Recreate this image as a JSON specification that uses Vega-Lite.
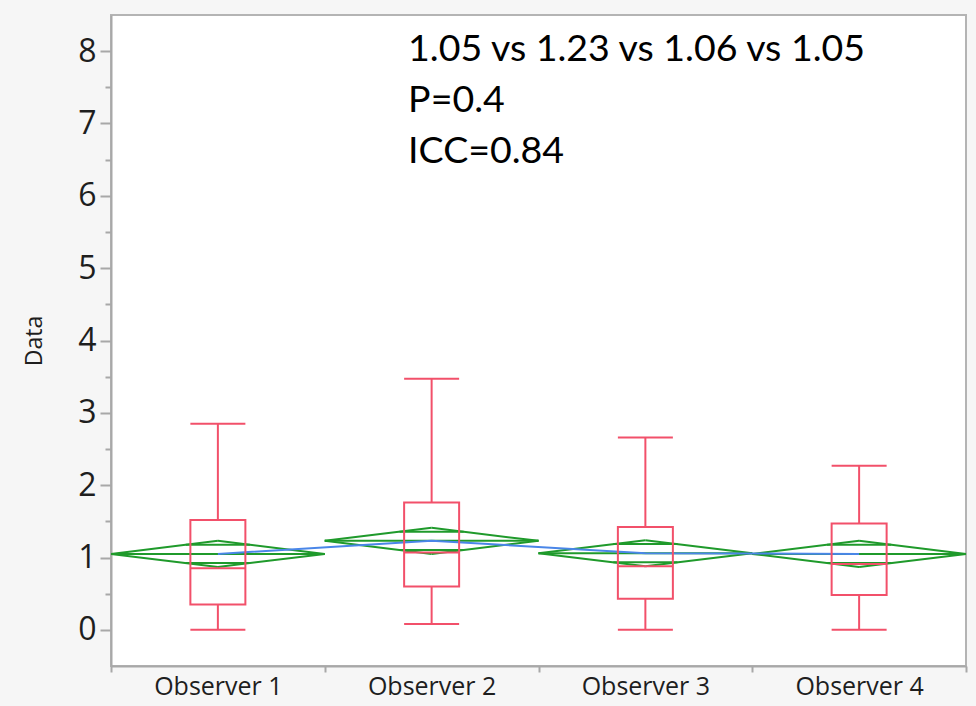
{
  "$schema": "https://vega.github.io/schema/vega-lite/v6.json",
  "width": 855,
  "height": 651,
  "autosize": "none",
  "padding": {"left": 111, "top": 15, "right": 10, "bottom": 40},
  "background": "#f6f6f6",
  "config": {
    "view": {"fill": "white", "stroke": "#b4b4b4", "strokeWidth": 2},
    "axis": {"grid": false, "domainColor": "#a8a8a8", "domainWidth": 2, "tickColor": "#a8a8a8", "tickWidth": 2, "labelColor": "#1e1e1e", "labelFont": "Open Sans", "titleFont": "Open Sans", "titleColor": "#1e1e1e", "titleFontWeight": "normal"},
    "axisY": {"titleFontSize": 23, "titlePadding": 31, "labelFontSize": 32, "labelPadding": 4}
  },
  "datasets": {
    "stats": [
      {"obs": "Observer 1", "min": 0, "q1": 0.35, "median": 0.85, "q3": 1.52, "max": 2.85, "mean": 1.05, "lo": 0.87, "hi": 1.23, "olo": 0.923, "ohi": 1.177},
      {"obs": "Observer 2", "min": 0.08, "q1": 0.6, "median": 1.07, "q3": 1.76, "max": 3.47, "mean": 1.23, "lo": 1.05, "hi": 1.41, "olo": 1.103, "ohi": 1.357},
      {"obs": "Observer 3", "min": 0, "q1": 0.43, "median": 0.88, "q3": 1.42, "max": 2.66, "mean": 1.06, "lo": 0.88, "hi": 1.24, "olo": 0.933, "ohi": 1.187},
      {"obs": "Observer 4", "min": 0, "q1": 0.48, "median": 0.91, "q3": 1.47, "max": 2.27, "mean": 1.05, "lo": 0.87, "hi": 1.23, "olo": 0.923, "ohi": 1.177}
    ]
  },
  "data": {"name": "stats"},
  "encoding": {
    "x": {"field": "obs", "type": "nominal", "bandPosition": 0,
      "scale": {"paddingInner": 0, "paddingOuter": 0},
      "axis": {"title": null, "tickBand": "extent", "labelAngle": 0, "labelFontSize": 25, "tickSize": 6, "labelPadding": 2}}
  },
  "layer": [
    {"mark": {"type": "rule", "color": "#1f9a2b", "strokeWidth": 2},
     "encoding": {
       "x2": {"field": "obs", "bandPosition": 0.5},
       "y": {"field": "mean", "type": "quantitative", "title": "Data",
         "scale": {"domain": [-0.5, 8.5], "nice": false, "zero": false},
         "axis": {"title": "Data",
           "values": [0, 0.5, 1, 1.5, 2, 2.5, 3, 3.5, 4, 4.5, 5, 5.5, 6, 6.5, 7, 7.5, 8],
           "labelExpr": "datum.value % 1 === 0 ? format(datum.value, 'd') : ''",
           "tickSize": {"condition": {"test": "datum.value % 1 === 0", "value": 11}, "value": 6}}},
       "y2": {"field": "hi"}}},
    {"mark": {"type": "rule", "color": "#1f9a2b", "strokeWidth": 2},
     "encoding": {"x2": {"field": "obs", "bandPosition": 0.5}, "y": {"field": "mean", "type": "quantitative", "title": "Data"}, "y2": {"field": "lo"}}},
    {"mark": {"type": "rule", "color": "#1f9a2b", "strokeWidth": 2},
     "encoding": {"x": {"field": "obs", "type": "nominal", "bandPosition": 0.5}, "x2": {"field": "obs", "bandPosition": 1}, "y": {"field": "hi", "type": "quantitative", "title": "Data"}, "y2": {"field": "mean"}}},
    {"mark": {"type": "rule", "color": "#1f9a2b", "strokeWidth": 2},
     "encoding": {"x": {"field": "obs", "type": "nominal", "bandPosition": 0.5}, "x2": {"field": "obs", "bandPosition": 1}, "y": {"field": "lo", "type": "quantitative", "title": "Data"}, "y2": {"field": "mean"}}},
    {"mark": {"type": "rule", "color": "#1f9a2b", "strokeWidth": 2},
     "encoding": {"x2": {"field": "obs", "bandPosition": 1}, "y": {"field": "mean", "type": "quantitative", "title": "Data"}}},
    {"mark": {"type": "rule", "color": "#1f9a2b", "strokeWidth": 2},
     "encoding": {"x": {"field": "obs", "type": "nominal", "bandPosition": 0.35}, "x2": {"field": "obs", "bandPosition": 0.65}, "y": {"field": "ohi", "type": "quantitative", "title": "Data"}}},
    {"mark": {"type": "rule", "color": "#1f9a2b", "strokeWidth": 2},
     "encoding": {"x": {"field": "obs", "type": "nominal", "bandPosition": 0.35}, "x2": {"field": "obs", "bandPosition": 0.65}, "y": {"field": "olo", "type": "quantitative", "title": "Data"}}},
    {"mark": {"type": "line", "color": "#4a86e8", "strokeWidth": 2},
     "encoding": {"x": {"field": "obs", "type": "nominal", "bandPosition": 0.5}, "y": {"field": "mean", "type": "quantitative", "title": "Data"}}},
    {"mark": {"type": "rule", "color": "#f2506a", "strokeWidth": 2},
     "encoding": {"x": {"field": "obs", "type": "nominal", "bandPosition": 0.5}, "y": {"field": "q3", "type": "quantitative", "title": "Data"}, "y2": {"field": "max"}}},
    {"mark": {"type": "rule", "color": "#f2506a", "strokeWidth": 2},
     "encoding": {"x": {"field": "obs", "type": "nominal", "bandPosition": 0.5}, "y": {"field": "min", "type": "quantitative", "title": "Data"}, "y2": {"field": "q1"}}},
    {"mark": {"type": "bar", "size": 55, "fill": "white", "fillOpacity": 0, "stroke": "#f2506a", "strokeWidth": 2},
     "encoding": {"x": {"field": "obs", "type": "nominal", "bandPosition": 0.5}, "y": {"field": "q1", "type": "quantitative", "title": "Data"}, "y2": {"field": "q3"}}},
    {"mark": {"type": "tick", "orient": "horizontal", "size": 55, "thickness": 2, "color": "#f2506a", "opacity": 1},
     "encoding": {"x": {"field": "obs", "type": "nominal", "bandPosition": 0.5}, "y": {"field": "min", "type": "quantitative", "title": "Data"}}},
    {"mark": {"type": "tick", "orient": "horizontal", "size": 55, "thickness": 2, "color": "#f2506a", "opacity": 1},
     "encoding": {"x": {"field": "obs", "type": "nominal", "bandPosition": 0.5}, "y": {"field": "max", "type": "quantitative", "title": "Data"}}},
    {"mark": {"type": "tick", "orient": "horizontal", "size": 55, "thickness": 2, "color": "#f2506a", "opacity": 1},
     "encoding": {"x": {"field": "obs", "type": "nominal", "bandPosition": 0.5}, "y": {"field": "median", "type": "quantitative", "title": "Data"}}},
    {"data": {"values": [{"t": 1}]},
     "mark": {"type": "text", "text": ["1.05 vs 1.23 vs 1.06 vs 1.05", "P=0.4", "ICC=0.84"], "font": "Lato", "fontSize": 37.5, "lineHeight": 51, "align": "left", "baseline": "alphabetic", "color": "black"},
     "encoding": {"x": {"datum": "Observer 2", "bandPosition": 0.39}, "y": {"datum": 7.86}}}
  ]
}
